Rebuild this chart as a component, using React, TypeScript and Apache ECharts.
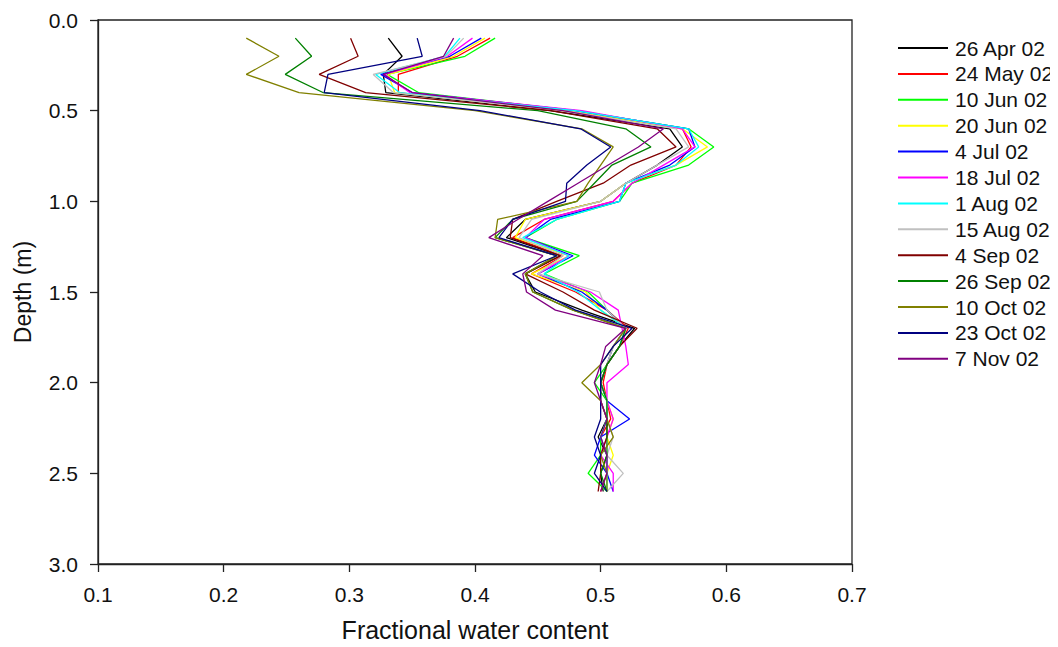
import React, { useEffect, useRef } from "react";
import * as echarts from "echarts";

const depths = [0.1, 0.2, 0.3, 0.4, 0.5, 0.6, 0.7, 0.8, 0.9, 1.0, 1.1, 1.2, 1.3, 1.4, 1.5, 1.6, 1.7, 1.8, 1.9, 2.0, 2.1, 2.2, 2.3, 2.4, 2.5, 2.6];

const seriesNames = ["26 Apr 02", "24 May 02", "10 Jun 02", "20 Jun 02", "4 Jul 02", "18 Jul 02", "1 Aug 02", "15 Aug 02", "4 Sep 02", "26 Sep 02", "10 Oct 02", "23 Oct 02", "7 Nov 02"];
const seriesColors = ["#000000", "#ff0000", "#00ff00", "#ffff00", "#0000ff", "#ff00ff", "#00ffff", "#c0c0c0", "#800000", "#008000", "#808000", "#000080", "#800080"];

const apr26 = [0.331, 0.342, 0.327, 0.329, 0.46, 0.555, 0.565, 0.545, 0.52, 0.5, 0.44, 0.425, 0.468, 0.44, 0.448, 0.485, 0.527, 0.515, 0.505, 0.5, 0.505, 0.505, 0.498, 0.505, 0.5, 0.502];
const may24 = [0.412, 0.386, 0.339, 0.339, 0.47, 0.565, 0.572, 0.56, 0.525, 0.51, 0.455, 0.43, 0.47, 0.445, 0.48, 0.505, 0.522, 0.515, 0.505, 0.502, 0.505, 0.508, 0.5, 0.505, 0.505, 0.5];
const jun10 = [0.416, 0.392, 0.33, 0.355, 0.48, 0.57, 0.59, 0.57, 0.525, 0.515, 0.465, 0.44, 0.483, 0.455, 0.49, 0.505, 0.52, 0.515, 0.505, 0.495, 0.505, 0.505, 0.5, 0.5, 0.49, 0.505];
const jun20 = [0.408, 0.383, 0.331, 0.336, 0.47, 0.565, 0.585, 0.56, 0.52, 0.5, 0.44, 0.432, 0.475, 0.445, 0.488, 0.5, 0.52, 0.51, 0.505, 0.5, 0.505, 0.51, 0.505, 0.51, 0.505, 0.505];
const jul4 = [0.405, 0.38, 0.325, 0.35, 0.48, 0.57, 0.575, 0.555, 0.52, 0.515, 0.46, 0.44, 0.478, 0.45, 0.485, 0.505, 0.52, 0.51, 0.505, 0.5, 0.505, 0.523, 0.5, 0.495, 0.505, 0.51];
const jul18 = [0.398, 0.378, 0.328, 0.348, 0.485, 0.565, 0.575, 0.55, 0.525, 0.51, 0.455, 0.44, 0.475, 0.45, 0.492, 0.514, 0.517, 0.52, 0.522, 0.505, 0.505, 0.51, 0.505, 0.5, 0.51, 0.51];
const aug1 = [0.388, 0.376, 0.321, 0.34, 0.48, 0.57, 0.578, 0.56, 0.52, 0.515, 0.465, 0.438, 0.475, 0.455, 0.482, 0.5, 0.52, 0.515, 0.505, 0.5, 0.505, 0.505, 0.5, 0.505, 0.505, 0.505];
const aug15 = [0.391, 0.377, 0.319, 0.335, 0.47, 0.56, 0.57, 0.545, 0.52, 0.5, 0.445, 0.435, 0.47, 0.45, 0.499, 0.505, 0.52, 0.51, 0.505, 0.5, 0.505, 0.505, 0.51, 0.505, 0.518, 0.505];
const sep4 = [0.301, 0.307, 0.276, 0.313, 0.46, 0.545, 0.56, 0.524, 0.502, 0.465, 0.43, 0.428, 0.468, 0.44, 0.47, 0.495, 0.529, 0.515, 0.505, 0.5, 0.5, 0.505, 0.505, 0.5, 0.5, 0.498];
const sep26 = [0.257, 0.27, 0.249, 0.279, 0.45, 0.52, 0.54, 0.509, 0.495, 0.481, 0.43, 0.416, 0.465, 0.44, 0.446, 0.478, 0.52, 0.515, 0.505, 0.5, 0.505, 0.505, 0.505, 0.505, 0.5, 0.505];
const oct10 = [0.218, 0.244, 0.218, 0.26, 0.4, 0.485, 0.51, 0.5, 0.49, 0.481, 0.418, 0.416, 0.465, 0.44, 0.446, 0.478, 0.52, 0.51, 0.5, 0.485, 0.5, 0.505, 0.51, 0.5, 0.505, 0.505];
const oct23 = [0.354, 0.358, 0.283, 0.28, 0.404, 0.484, 0.508, 0.489, 0.473, 0.472, 0.43, 0.419, 0.465, 0.43, 0.452, 0.48, 0.525, 0.51, 0.5, 0.5, 0.5, 0.5, 0.495, 0.5, 0.495, 0.505];
const nov7 = [0.383, 0.375, 0.327, 0.35, 0.47, 0.55, 0.53, 0.506, 0.482, 0.458, 0.434, 0.411, 0.454, 0.438, 0.441, 0.464, 0.52, 0.504, 0.5, 0.495, 0.5, 0.505, 0.5, 0.505, 0.505, 0.5];

const seriesValues = [apr26, may24, jun10, jun20, jul4, jul18, aug1, aug15, sep4, sep26, oct10, oct23, nov7];

const xTicks = [0.1, 0.2, 0.3, 0.4, 0.5, 0.6, 0.7];
const yTicks = [0.0, 0.5, 1.0, 1.5, 2.0, 2.5, 3.0];

const FONT = "'Liberation Sans', Arial, sans-serif";

export default function App() {
  const ref = useRef<HTMLDivElement>(null);
  useEffect(() => {
    if (!ref.current) return;
    const chart = echarts.init(ref.current, null, { renderer: "svg" });
    const option = {
      animation: false,
      backgroundColor: "#ffffff",
      textStyle: { fontFamily: FONT },
      grid: {
        left: 98,
        right: 206,
        top: 20,
        bottom: 83,
        show: true,
        borderColor: "#222",
        borderWidth: 1.3,
        backgroundColor: "transparent",
        containLabel: false,
        outerBoundsMode: "none",
      },
      legend: {
        orient: "vertical",
        left: 893,
        top: 31,
        icon: "rect",
        itemWidth: 50,
        itemHeight: 2,
        itemGap: 1.9,
        textStyle: { fontFamily: FONT, fontSize: 21, color: "#111", lineHeight: 24, padding: [0, 0, 0, 2] },
        data: seriesNames,
      },
      xAxis: {
        type: "value",
        min: xTicks[0],
        max: xTicks[xTicks.length - 1],
        interval: 0.1,
        name: "Fractional water content",
        nameLocation: "middle",
        nameGap: 53,
        nameTextStyle: { fontFamily: FONT, fontSize: 25, color: "#111" },
        axisLine: { show: true, onZero: false, lineStyle: { color: "#222", width: 1.3 } },
        axisTick: { show: true, inside: false, length: 8, lineStyle: { color: "#222", width: 1.3 } },
        axisLabel: { fontFamily: FONT, fontSize: 21, color: "#111", margin: 20, formatter: (v: number) => v.toFixed(1) },
        splitLine: { show: false },
      },
      yAxis: {
        type: "value",
        inverse: true,
        min: yTicks[0],
        max: yTicks[yTicks.length - 1],
        interval: 0.5,
        name: "Depth (m)",
        nameLocation: "middle",
        nameGap: 64,
        nameRotate: 90,
        nameTextStyle: { fontFamily: FONT, fontSize: 23, color: "#111" },
        axisLine: { show: true, onZero: false, lineStyle: { color: "#222", width: 1.3 } },
        axisTick: { show: true, inside: false, length: 8, lineStyle: { color: "#222", width: 1.3 } },
        axisLabel: { fontFamily: FONT, fontSize: 21, color: "#111", margin: 20, formatter: (v: number) => v.toFixed(1) },
        splitLine: { show: false },
      },
      series: seriesNames.map((name, i) => ({
        name,
        type: "line",
        symbol: "none",
        showSymbol: false,
        color: seriesColors[i],
        lineStyle: { color: seriesColors[i], width: 1.3 },
        data: seriesValues[i].map((v, j) => [v, depths[j]]),
      })),
    };
    chart.setOption(option as any);
    return () => chart.dispose();
  }, []);
  return <div ref={ref} style={{ width: 1058, height: 647, margin: -8 }} />;
}
